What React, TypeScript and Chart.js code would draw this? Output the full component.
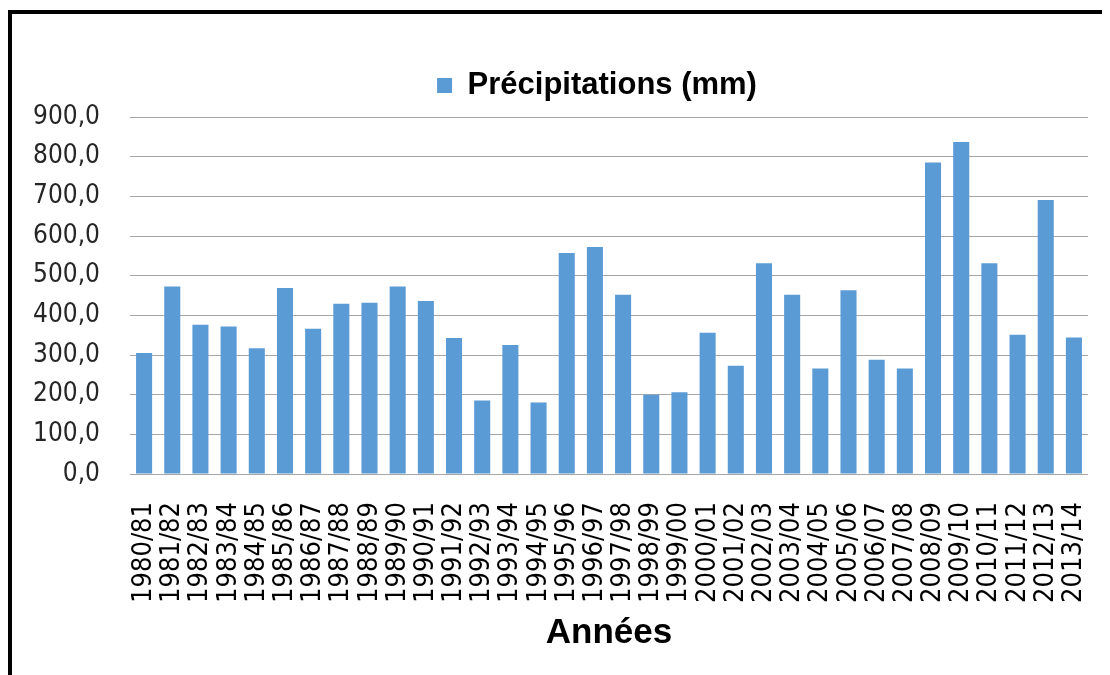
import React, { useEffect, useRef } from "react";
import { Chart, registerables } from "chart.js";

Chart.register(...registerables);

const categories = [
  "1980/81", "1981/82", "1982/83", "1983/84", "1984/85", "1985/86", "1986/87",
  "1987/88", "1988/89", "1989/90", "1990/91", "1991/92", "1992/93", "1993/94",
  "1994/95", "1995/96", "1996/97", "1997/98", "1998/99", "1999/00", "2000/01",
  "2001/02", "2002/03", "2003/04", "2004/05", "2005/06", "2006/07", "2007/08",
  "2008/09", "2009/10", "2010/11", "2011/12", "2012/13", "2013/14",
];

const precipitations = [
  305, 473, 376, 372, 317, 469, 366, 429, 432, 473, 436, 343, 185, 325, 180,
  557, 572, 452, 200, 206, 356, 273, 531, 452, 266, 463, 288, 266, 785, 837,
  531, 351, 691, 344,
];

const seriesLabel = "Précipitations (mm)";
const xAxisTitle = "Années";
const yMin = 0;
const yMax = 900;
const yStep = 100;

const CANVAS_W = 1098;
const CANVAS_H = 661;

export default function App() {
  const canvasRef = useRef<HTMLCanvasElement | null>(null);

  useEffect(() => {
    if (!canvasRef.current) return;

    const legendTweak = {
      id: "legendTweak",
      beforeLayout(chart: any) {
        const lg = chart.legend;
        if (lg && !lg._patched) {
          const f = lg.fit;
          lg.fit = function () {
            f.call(this);
            this.height += 6;
          };
          lg._patched = true;
        }
      },
      afterLayout(chart: any) {
        const lg = chart.legend;
        if (lg) {
          lg.left += 47;
          lg.right += 47;
        }
      },
    };

    const chart = new Chart(canvasRef.current, {
      type: "bar",
      data: {
        labels: categories,
        datasets: [
          {
            label: seriesLabel,
            data: precipitations,
            backgroundColor: "#5B9BD5",
            borderWidth: 0,
            barPercentage: 0.57,
            categoryPercentage: 1,
          },
        ],
      },
      options: {
        responsive: false,
        animation: false,
        layout: { padding: { top: 46, right: 22, bottom: 0, left: 0 } },
        plugins: {
          tooltip: { enabled: false },
          legend: {
            display: true,
            position: "top",
            labels: {
              boxWidth: 15,
              boxHeight: 15,
              padding: 10,
              color: "#000000",
              font: { family: "'Liberation Sans', Arial, sans-serif", size: 31, weight: "bold" },
            },
          },
        },
        scales: {
          x: {
            grid: { display: false, drawTicks: false },
            border: { display: false },
            ticks: {
              autoSkip: false,
              maxRotation: 90,
              minRotation: 90,
              padding: 28,
              color: "#000000",
              font: { family: "'DejaVu Sans Condensed', 'DejaVu Sans', sans-serif", size: 27 },
            },
            title: {
              display: true,
              text: xAxisTitle,
              color: "#000000",
              padding: { top: 0, bottom: 21 },
              font: { family: "'Liberation Sans', Arial, sans-serif", size: 35, weight: "bold" },
            },
            afterFit(scale: any) {
              scale.height = 201;
              scale.paddingLeft = 0;
              scale.paddingRight = 0;
            },
          },
          y: {
            min: yMin,
            max: yMax,
            ticks: {
              stepSize: yStep,
              padding: 30,
              color: "#262626",
              font: { family: "'DejaVu Sans Condensed', 'DejaVu Sans', sans-serif", size: 26 },
              callback: (v: any) => Number(v).toFixed(1).replace(".", ","),
            },
            grid: { color: "#A6A6A6", lineWidth: 1, drawTicks: false },
            border: { display: false },
            afterFit(scale: any) {
              scale.width = 118;
            },
          },
        },
      },
      plugins: [legendTweak],
    });

    return () => chart.destroy();
  }, []);

  return (
    <div style={{ position: "relative", width: 1102, height: 667, overflow: "hidden" }}>
      <div
        style={{
          position: "absolute",
          left: 0,
          top: 2,
          width: 1200,
          height: 800,
          border: "4px solid #000",
        }}
      />
      <canvas
        ref={canvasRef}
        width={CANVAS_W}
        height={CANVAS_H}
        style={{ position: "absolute", left: 4, top: 6, width: CANVAS_W, height: CANVAS_H }}
      />
    </div>
  );
}
